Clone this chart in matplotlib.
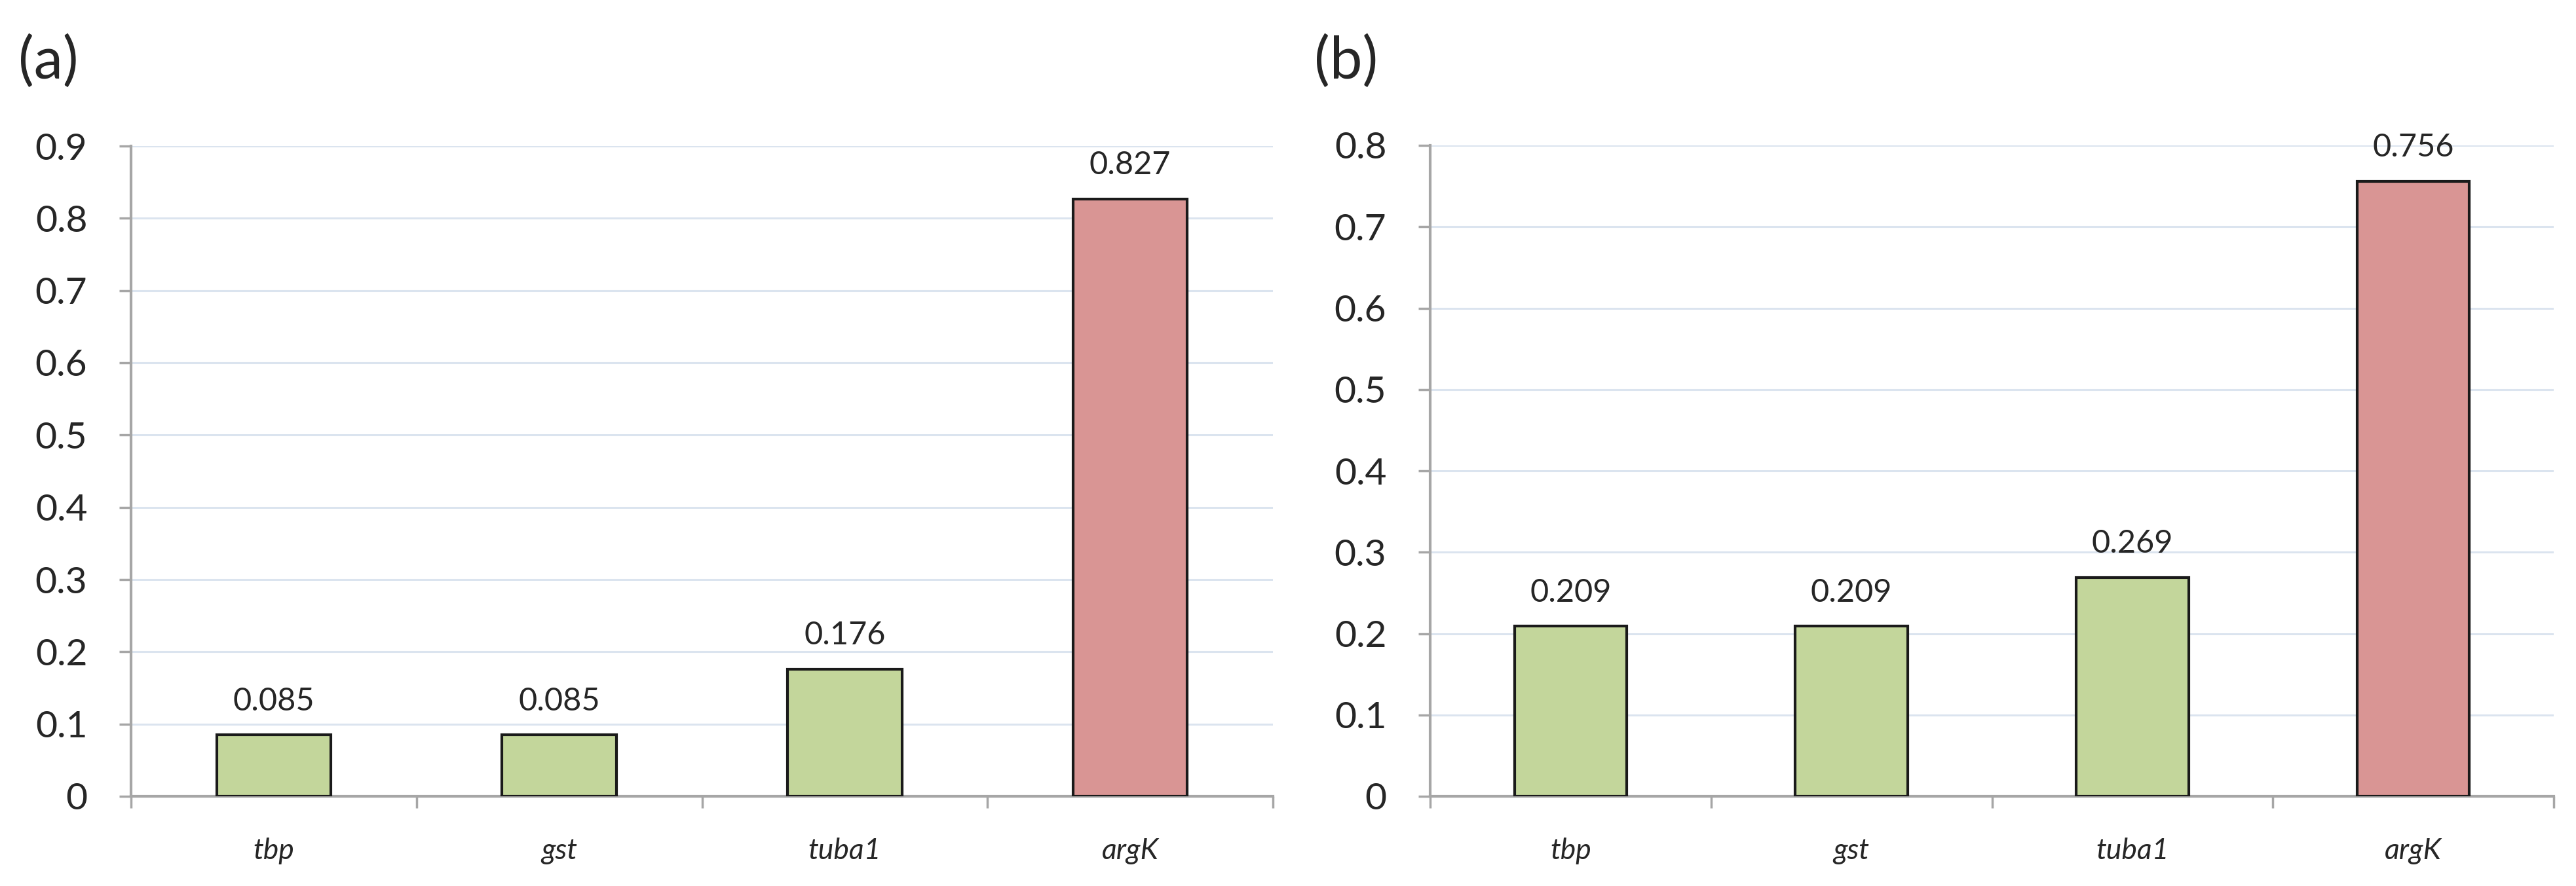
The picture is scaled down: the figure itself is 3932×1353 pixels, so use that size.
import matplotlib
matplotlib.use("Agg")
import matplotlib.pyplot as plt
import numpy as np

plt.rcParams['font.family'] = ['Lato', 'DejaVu Sans']

# data
genes = ['tbp', 'gst', 'tuba1', 'argK']
vals_a = [0.085, 0.085, 0.176, 0.827]
vals_b = [0.209, 0.209, 0.269, 0.756]
colors = ['#c3d69b', '#c3d69b', '#c3d69b', '#d99594']
ymax_a = 0.9
ymax_b = 0.8

W, H = 3932, 1353
fig = plt.figure(figsize=(W / 100, H / 100), dpi=100)

grid_col = '#dbe4ef'
axis_col = '#a6a6a6'
txt_col = '#262626'


def panel(rect, vals, ymax, label, label_x):
    ax = fig.add_axes(rect)
    x = np.arange(len(genes))
    ax.bar(x, vals, width=0.4, color=colors, edgecolor='#1a1a1a', linewidth=3, zorder=3)
    for xi, v in zip(x, vals):
        ax.annotate('%.3f' % v, (xi, v), xytext=(0, 27), textcoords='offset points',
                    ha='center', va='baseline', fontsize=35, color=txt_col)
    ax.set_xlim(-0.5, len(genes) - 0.5)
    ax.set_ylim(0, ymax)
    yt = np.round(np.arange(0, ymax + 0.001, 0.1), 1)
    ax.set_yticks(yt)
    ax.set_yticklabels(['0' if t == 0 else '%.1f' % t for t in yt])
    ax.yaxis.grid(True, color=grid_col, linewidth=2.2, zorder=0)
    ax.set_axisbelow(True)
    # category labels at centres, tick marks at boundaries
    ax.set_xticks(x)
    ax.set_xticklabels(genes, fontstyle='italic', fontsize=32, color=txt_col)
    ax.set_xticks(np.arange(-0.5, len(genes), 1.0), minor=True)
    ax.tick_params(axis='x', which='major', length=0, pad=45)
    ax.tick_params(axis='x', which='minor', length=13, width=2.5, color=axis_col)
    ax.tick_params(axis='y', length=13, width=2.5, color=axis_col, labelsize=41,
                   labelcolor=txt_col, pad=35)
    for s in ['top', 'right']:
        ax.spines[s].set_visible(False)
    for s in ['left', 'bottom']:
        ax.spines[s].set_color(axis_col)
        ax.spines[s].set_linewidth(3)
    fig.text(label_x, (H - 120) / H, label, fontsize=64, color=txt_col, va='baseline')
    return ax


panel([200 / W, 137 / H, 1743 / W, 993 / H], vals_a, ymax_a, '(a)', 28 / W)
panel([2183 / W, 137 / H, 1715 / W, 994 / H], vals_b, ymax_b, '(b)', 2006 / W)

fig.savefig('out.png', dpi=100)
